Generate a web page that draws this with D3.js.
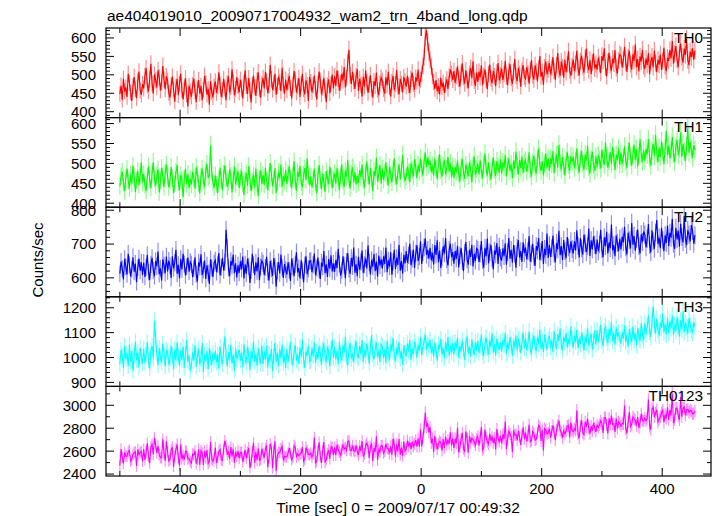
<!DOCTYPE html>
<html><head><meta charset="utf-8">
<script src="https://cdn.jsdelivr.net/npm/d3@7/dist/d3.min.js"></script>
<style>body{margin:0;background:#fff}svg{display:block}text{font-family:"Liberation Sans",Arial,Helvetica,sans-serif}</style>
</head><body>
<svg id="c" width="717" height="516"></svg>
<script>
const chartTitle = "ae404019010_20090717004932_wam2_trn_4band_long.qdp";
const xLabel = "Time [sec] 0 = 2009/07/17 00:49:32";
const yLabel = "Counts/sec";
const tStart = -500, binSec = 1.98;
const panelNames = ["TH0", "TH1", "TH2", "TH3", "TH0123"];
const panelColors = ["#ff0000", "#00ff00", "#0000ff", "#00ffff", "#ff00ff"];
const xTickValues = [-400, -200, 0, 200, 400];
const yDomains = [[384, 627], [390, 615], [544, 809], [884, 1244], [2383, 3165]];
const yMajor = [50, 50, 100, 100, 200];
const yMinor = [10, 10, 20, 20, 100];

const th0 = [
448,471,432,489,455,466,440,503,478,452,429,470,494,461,437,482,509,458,446,475,
463,497,518,472,455,488,530,476,449,501,485,466,512,493,458,479,524,487,461,496,
484,451,438,472,495,460,427,468,489,445,476,503,458,433,466,491,447,414,470,455,
441,472,490,455,426,463,486,449,470,431,459,497,477,446,462,419,483,454,439,468,
482,451,469,507,474,440,458,489,463,431,477,496,452,467,515,481,445,462,493,470,
452,487,463,436,479,512,470,448,491,459,425,472,498,466,443,484,507,461,438,475,
491,463,508,482,450,471,527,488,459,477,503,446,469,495,481,456,519,473,449,487,
458,481,497,464,436,473,510,487,452,469,491,440,476,503,461,447,485,472,429,494,
480,453,471,498,462,433,476,509,484,447,465,492,458,426,471,488,450,475,501,463,
496,470,512,489,457,478,503,485,521,466,491,534,568,499,475,508,483,462,497,515,
456,489,473,441,495,468,512,480,451,474,499,462,438,483,470,506,459,445,478,492,
484,461,449,493,472,508,466,441,480,497,458,475,513,469,447,489,476,452,494,482,
468,497,472,451,489,506,476,460,493,482,514,470,487,503,525,548,603,621,588,562,
541,522,497,481,462,486,455,470,447,492,466,479,451,473,488,462,495,514,503,486,
510,478,497,523,489,468,505,531,494,476,512,487,463,502,519,491,537,484,470,506,
481,509,493,526,472,498,515,486,461,503,528,490,477,511,496,469,507,532,485,499,
517,486,503,538,495,472,510,529,491,476,508,543,497,483,519,502,468,511,526,494,
489,521,504,476,513,540,498,487,526,509,482,517,551,495,508,473,520,536,501,515,
532,501,519,548,510,487,526,559,514,497,536,520,492,541,507,529,564,512,498,523,
541,510,530,566,519,498,537,552,523,506,545,571,528,513,540,502,533,558,517,529,
514,547,529,505,551,538,572,520,496,535,560,527,511,544,531,567,518,503,539,555,
552,520,541,576,533,508,547,565,529,514,556,538,582,521,543,509,550,536,568,524,
516,544,527,559,502,535,549,521,566,532,507,541,528,555,513,538,573,524,510,546,
538,567,545,592,530,556,578,541,521,562,585,549,533,571,554,597,540,526,563,548,
572,541,566];

const th1 = [
442,468,479,451,430,463,487,456,437,472,449,494,466,428,458,481,445,470,503,452,
473,446,431,467,492,459,438,476,503,462,444,470,485,427,455,489,468,441,476,497,
468,440,457,491,463,425,450,478,496,452,433,471,458,415,462,486,447,474,438,461,
447,479,463,436,491,472,450,425,468,487,456,441,482,499,463,470,545,478,452,439,
470,448,426,461,489,457,432,474,495,463,441,452,485,469,427,458,493,447,466,480,
438,465,481,449,421,459,476,444,493,462,430,455,471,439,487,450,418,463,482,448,
471,446,489,457,432,466,501,474,443,460,488,425,452,479,463,497,440,469,454,483,
448,475,492,461,437,470,505,456,431,479,466,494,451,440,473,488,458,512,469,445,
467,440,459,487,451,425,470,496,458,436,474,452,429,481,463,447,492,468,438,461,
476,449,488,463,432,470,497,455,441,482,466,509,459,437,474,490,452,478,447,469,
451,483,466,497,458,439,476,505,470,447,489,462,430,481,468,514,455,473,496,449,
487,459,476,503,468,444,491,472,452,485,513,466,448,479,497,460,482,521,473,456,
466,492,478,453,501,484,467,510,489,463,496,479,512,488,470,505,527,491,514,496,
507,478,495,470,512,486,461,499,523,482,467,494,509,473,488,516,479,501,465,492,
463,491,478,507,472,455,489,512,476,461,497,483,468,503,487,452,494,518,471,486,
499,472,508,481,463,496,525,487,470,503,478,459,491,515,484,468,506,492,477,510,
474,503,489,521,467,495,512,481,498,463,507,486,530,494,472,509,488,517,476,501,
508,479,497,528,484,466,503,519,491,474,512,537,495,481,506,470,499,525,487,513,
481,512,498,531,476,505,522,489,547,501,484,516,493,470,509,528,496,482,519,504,
516,488,507,538,495,477,512,531,499,484,523,506,545,491,474,510,529,497,481,518,
490,521,508,487,534,512,496,553,517,489,506,528,499,541,515,483,522,509,538,496,
527,498,515,543,506,489,530,552,514,495,521,547,509,536,492,518,561,523,504,533,
506,537,522,561,513,494,531,549,518,572,527,503,540,516,555,529,498,536,582,521,
545,513,532,567,524,503,541,559,520,536,578,517,549,530,506,543,588,527,554,535,
514,546,533];

const th2 = [
612,648,627,595,656,633,610,671,639,604,625,661,618,642,587,630,657,621,646,609,
645,603,631,668,617,594,640,659,622,605,650,634,678,611,628,592,655,637,614,663,
619,651,636,600,664,628,645,683,612,639,598,656,625,671,641,607,633,660,618,647,
640,602,628,661,611,589,646,633,670,608,624,651,597,637,614,582,655,629,603,644,
652,617,640,673,608,631,659,622,646,742,688,629,605,650,636,669,614,643,601,637,
615,649,626,663,598,640,612,657,634,585,622,671,639,608,646,619,661,593,632,650,
643,609,631,662,618,592,650,627,606,658,635,574,621,647,613,669,630,600,641,624,
610,646,622,591,657,633,605,640,676,616,629,598,652,621,587,638,664,611,627,649,
651,617,639,672,608,629,660,624,597,645,633,679,614,640,603,656,627,667,619,642,
618,653,629,686,641,607,622,664,637,599,648,673,626,612,659,634,690,615,640,605,
662,624,647,681,615,639,658,628,696,645,610,653,633,671,620,648,604,666,637,655,
628,664,641,690,617,652,633,676,609,647,683,626,659,638,698,621,650,612,668,643,
679,645,667,701,638,656,684,629,672,697,650,663,708,641,675,690,716,668,683,657,
689,652,674,640,697,668,711,646,681,629,660,693,672,718,654,637,683,701,661,676,
642,679,657,695,631,666,688,649,620,674,706,655,639,683,662,698,634,671,650,687,
683,647,671,709,652,630,689,664,716,643,676,698,658,625,681,669,703,641,692,660,
651,687,664,702,639,676,718,657,683,645,697,671,630,689,712,660,679,647,705,673,
690,655,679,724,648,672,701,662,635,694,681,718,653,677,709,641,686,667,731,659,
697,662,688,725,671,646,703,684,739,667,694,652,712,679,658,721,690,673,708,685,
672,709,681,741,695,660,718,687,669,728,702,676,693,746,665,711,684,723,698,670,
713,678,699,742,685,661,720,694,736,672,705,688,758,681,697,664,725,703,679,716,
684,722,705,751,690,669,733,711,687,762,698,724,680,715,743,694,672,729,706,737,
728,690,716,759,697,675,741,708,686,734,771,700,719,688,748,711,679,726,703,755,
694,733,719,775,701,686,748,714,739,692,760,721,705,783,716,697,741,728,708,756,
740,701,726];

const th3 = [
972,1031,1008,957,1046,993,1018,965,1052,984,1027,946,1009,1063,988,1021,959,1039,1002,975,
1034,978,1012,1061,989,955,1027,1046,997,1148,1073,1015,969,1038,1001,982,1056,1019,964,1029,
1023,971,996,1047,1011,952,1033,988,1061,1005,967,1029,990,1044,958,1017,1069,983,1008,946,
968,1021,987,1049,962,1006,1035,973,995,1058,941,1012,984,1027,953,1039,998,970,1018,989,
1027,981,1013,957,1044,996,972,1031,1085,1008,963,1022,989,1050,976,1011,948,1036,993,1015,
1032,987,1019,961,1053,1001,978,1041,1010,949,1026,994,1064,983,1015,968,1038,1002,975,1047,
973,1025,992,1048,960,1013,986,1035,945,1007,1059,981,1020,966,1033,997,1052,978,1011,958,
1034,981,1016,1063,995,968,1027,1049,987,1012,975,1041,1003,1072,990,958,1025,1008,1046,983,
986,1039,1005,1061,977,1022,995,1048,1014,969,1033,1057,1000,981,1044,1019,964,1030,1071,998,
1043,992,1027,974,1062,1010,988,1049,1021,1083,1002,968,1035,1058,996,1017,979,1041,1066,1008,
997,1048,1015,1069,984,1030,1006,1057,1023,975,1041,1090,1012,993,1036,1061,1002,1028,981,1053,
1046,999,1033,978,1067,1015,991,1052,1027,1079,1004,985,1040,1011,1063,996,1024,972,1049,1018,
1005,1057,1024,1072,990,1036,1014,1064,1042,998,1051,1027,1083,1009,1045,1066,1091,1032,1058,1047,
1071,1018,1044,1003,1060,1029,988,1052,1035,1075,1011,1040,997,1063,1026,1082,1007,1049,1021,1058,
1012,1062,1038,1079,999,1046,1023,1068,1031,990,1057,1084,1016,1043,1005,1072,1036,1010,1061,1028,
1066,1019,1047,1093,1024,1005,1058,1081,1037,1012,1069,1043,1097,1021,1054,1008,1076,1045,1030,1062,
1023,1071,1049,1098,1015,1060,1033,1082,1052,1006,1067,1041,1089,1028,1075,1054,1019,1063,1101,1037,
1076,1029,1058,1104,1037,1015,1069,1088,1044,1027,1081,1053,1112,1035,1064,1022,1091,1059,1033,1072,
1087,1041,1070,1022,1106,1058,1035,1093,1066,1117,1048,1029,1082,1061,1099,1040,1075,1053,1124,1068,
1041,1089,1063,1112,1038,1077,1054,1101,1070,1027,1085,1059,1119,1046,1073,1096,1031,1066,1108,1052,
1109,1062,1093,1131,1070,1048,1104,1126,1079,1058,1115,1088,1142,1067,1097,1053,1121,1083,1100,1074,
1056,1102,1077,1128,1064,1091,1043,1113,1085,1061,1124,1072,1098,1050,1119,1083,1067,1137,1090,1069,
1138,1093,1122,1171,1104,1083,1147,1206,1129,1097,1156,1110,1088,1141,1119,1178,1101,1135,1092,1160,
1098,1145,1117,1169,1091,1133,1106,1162,1127,1084,1150,1113,1187,1102,1139,1121,1096,1158,1131,1112,
1099,1141,1125];

// TH0123 is the sum of the four bands
const th0123 = th0.map((v, i) => v + th1[i] + th2[i] + th3[i]);
const seriesList = [th0, th1, th2, th3, th0123];

const svg = d3.select("#c");
const plotL = 106, plotR = 711, plotT = 28, plotB = 476;
const ph = (plotB - plotT) / 5;

const x = d3.scaleLinear().domain([-523, 481]).range([plotL, plotR]);

svg.append("text").attr("x", 107).attr("y", 21).attr("font-size", 15.5).text(chartTitle);

seriesList.forEach((vals, p) => {
  const y0 = plotT + p * ph, y1 = y0 + ph;
  const y = d3.scaleLinear().domain(yDomains[p]).range([y1, y0]);
  const g = svg.append("g");
  const clipId = "clip" + p;
  svg.append("clipPath").attr("id", clipId).append("rect")
    .attr("x", plotL).attr("y", y0).attr("width", plotR - plotL).attr("height", ph);
  const data = vals.map((v, i) => ({t: tStart + i * binSec, v: v, e: Math.sqrt(v)}));
  const dg = g.append("g").attr("clip-path", `url(#${clipId})`);
  dg.selectAll("line.err").data(data).join("line")
    .attr("x1", d => x(d.t)).attr("x2", d => x(d.t))
    .attr("y1", d => y(d.v - d.e)).attr("y2", d => y(d.v + d.e))
    .attr("stroke", panelColors[p]).attr("stroke-opacity", 0.45).attr("stroke-width", 1.2);
  dg.append("path").datum(data)
    .attr("d", d3.line().x(d => x(d.t)).y(d => y(d.v)))
    .attr("fill", "none").attr("stroke", panelColors[p]).attr("stroke-width", 1.15);

  g.append("rect").attr("x", plotL).attr("y", y0).attr("width", plotR - plotL).attr("height", ph)
    .attr("fill", "none").attr("stroke", "#000").attr("stroke-width", 1.2);

  const ymaj = d3.range(Math.ceil(yDomains[p][0] / yMajor[p]) * yMajor[p], yDomains[p][1] + 0.001, yMajor[p]);
  const ymin = d3.range(Math.ceil(yDomains[p][0] / yMinor[p]) * yMinor[p], yDomains[p][1] + 0.001, yMinor[p]);
  ymin.forEach(v => {
    const isMaj = v % yMajor[p] === 0;
    const L = isMaj ? 8 : 4;
    g.append("line").attr("x1", plotL).attr("x2", plotL + L).attr("y1", y(v)).attr("y2", y(v)).attr("stroke", "#000");
    g.append("line").attr("x1", plotR).attr("x2", plotR - L).attr("y1", y(v)).attr("y2", y(v)).attr("stroke", "#000");
  });
  ymaj.forEach(v => {
    g.append("text").attr("x", 96).attr("y", y(v)).attr("dy", "0.36em")
      .attr("text-anchor", "end").attr("font-size", 15).text(v);
  });

  d3.range(-500, 481, 100).forEach(t => {
    const L = t % 200 === 0 ? 8 : 5;
    g.append("line").attr("x1", x(t)).attr("x2", x(t)).attr("y1", y0).attr("y2", y0 + L).attr("stroke", "#000");
    g.append("line").attr("x1", x(t)).attr("x2", x(t)).attr("y1", y1).attr("y2", y1 - L).attr("stroke", "#000");
  });

  g.append("text").attr("x", 703).attr("y", y0 + 14.7).attr("text-anchor", "end")
    .attr("font-size", 15.3).text(panelNames[p]);
});

const fmt = d3.format("");
xTickValues.forEach(t => {
  svg.append("text").attr("x", x(t)).attr("y", 494).attr("text-anchor", "middle")
    .attr("font-size", 15).text(fmt(t));
});
svg.append("text").attr("x", 398).attr("y", 513).attr("text-anchor", "middle")
  .attr("font-size", 15.5).text(xLabel);
svg.append("text").attr("transform", "translate(43,260) rotate(-90)").attr("text-anchor", "middle")
  .attr("font-size", 15).text(yLabel);
</script>
</body></html>
